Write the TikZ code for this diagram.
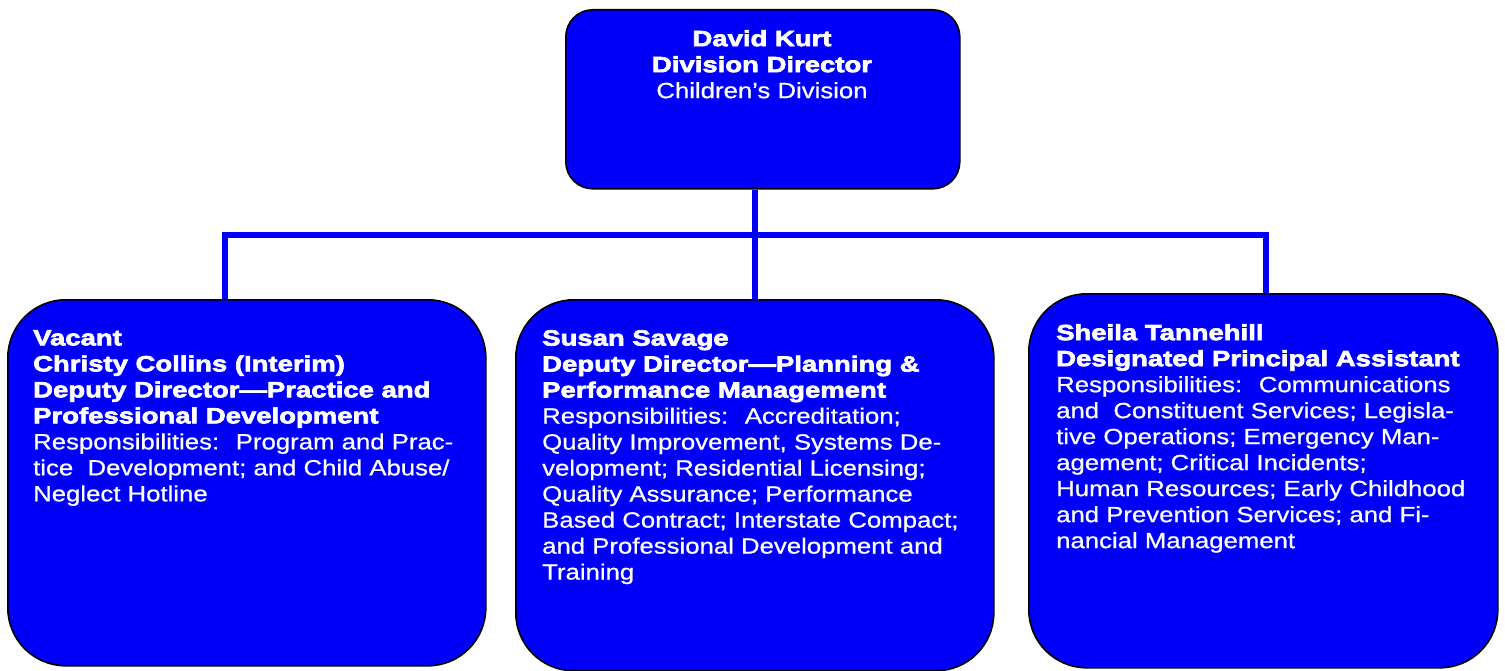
\documentclass[tikz,border=0pt]{standalone}
\usepackage{fontspec}
\usetikzlibrary{backgrounds}
\newfontfamily\rg{Liberation Sans}[FakeStretch=1.17,FakeBold=0.7]
\newfontfamily\hv{Liberation Sans Bold}[FakeStretch=1.25,FakeBold=3]
\definecolor{boxblue}{RGB}{0,0,250}
\tikzset{
  box/.style={draw=black, line width=1.6pt, fill=boxblue, inner sep=0pt, anchor=north west},
  bigbox/.style={box, rounded corners=58pt},
  topbox/.style={box, rounded corners=27pt},
  txt/.style={text=white, inner sep=0pt, align=left, font={\fontsize{22}{26}\selectfont\rg}},
  conn/.style={draw=boxblue, line width=5.5pt}
}
\begin{document}
\begin{tikzpicture}[x=1pt,y=-1pt]
\useasboundingbox (0,0) rectangle (1505,671);
% boxes
\node[topbox, minimum width=394pt, minimum height=179pt] (top) at (565,9) {};
\node[bigbox, minimum width=478pt, minimum height=366pt] (left) at (7,299) {};
\node[bigbox, minimum width=478pt, minimum height=371pt] (mid) at (515,299) {};
\node[bigbox, minimum width=469pt, minimum height=374pt] (right) at (1028,293) {};
% texts
\node[txt, align=center, anchor=north] (toptxt) at (762,30)
  {{\hv David Kurt}\\{\hv Division Director}\\Children’s Division};
\node[txt, anchor=north west] (lefttxt) at (33,330)
  {{\hv Vacant}\\
   {\hv Christy Collins (Interim)}\\
   {\hv Deputy Director—Practice and}\\
   {\hv Professional Development}\\
   Responsibilities:~ Program and Prac-\\
   tice~ Development; and Child Abuse/\\
   Neglect Hotline};
\node[txt, anchor=north west] (midtxt) at (542,330)
  {{\hv Susan Savage}\\
   {\hv Deputy Director—Planning \&}\\
   {\hv Performance Management}\\
   Responsibilities:~ Accreditation;\\
   Quality Improvement, Systems De-\\
   velopment; Residential Licensing;\\
   Quality Assurance; Performance\\
   Based Contract; Interstate Compact;\\
   and Professional Development and\\
   Training};
\node[txt, anchor=north west] (righttxt) at (1056,324)
  {{\hv Sheila Tannehill}\\
   {\hv Designated Principal Assistant}\\
   Responsibilities:~ Communications\\
   and~ Constituent Services; Legisla-\\
   tive Operations; Emergency Man-\\
   agement; Critical Incidents;\\
   Human Resources; Early Childhood\\
   and Prevention Services; and Fi-\\
   nancial Management};
% connectors
\coordinate (jL) at (225,235);
\coordinate (jM) at (755,235);
\coordinate (jR) at (1266,235);
\begin{pgfonlayer}{background}
\draw[conn] (jM |- top.south) -- (jM |- mid.north);
\draw[conn, line width=6.5pt] ([xshift=-2.75pt]jL) -- ([xshift=2.75pt]jR);
\draw[conn] (jL) -- (jL |- left.north);
\draw[conn] (jR) -- (jR |- right.north);
\end{pgfonlayer}
\end{tikzpicture}
\end{document}
